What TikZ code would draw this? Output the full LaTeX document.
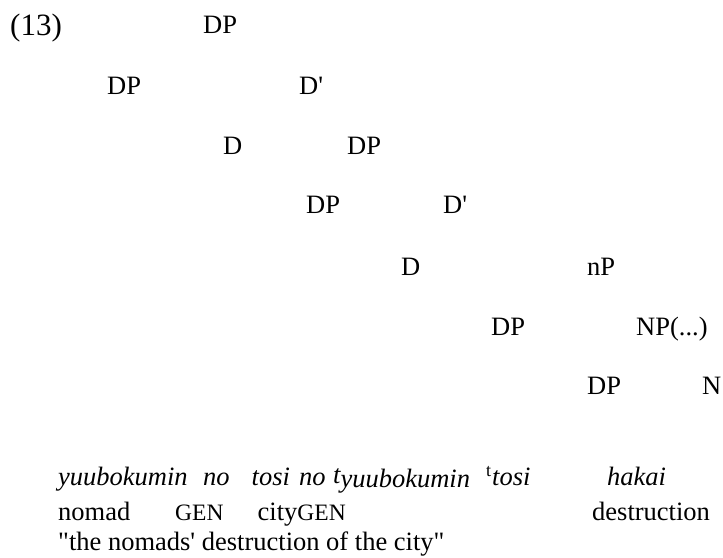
\documentclass[tikz,border=0pt]{standalone}
\usepackage{fontspec}
\setmainfont{LiberationSerif}[Extension=.ttf, UprightFont=*-Regular, ItalicFont=*-Italic, BoldFont=*-Bold, Ligatures=TeXOff]
\newcommand{\gentag}{{\fontsize{23.5}{28}\selectfont GEN}}
\begin{document}
\begin{tikzpicture}[x=1pt, y=-1pt,
	lbl/.style={anchor=base west, inner sep=0pt, font=\fontsize{26.5}{30}\selectfont}]
	\useasboundingbox (0, 0) rectangle (723, 557);
	
	% tree labels, no branches
	\node[lbl, font=\fontsize{31}{36}\selectfont] (ex) at (10, 35.5) {(13)};
	\node[lbl] (dp0) at (203, 33) {DP};
	
	\node[lbl] (dp1) at (107, 94) {DP};
	\node[lbl] (dbar1) at (299, 94) {D'};
	
	\node[lbl] (d2) at (223, 154.5) {D};
	\node[lbl] (dp2) at (347, 154.5) {DP};
	
	\node[lbl] (dp3) at (306, 213) {DP};
	\node[lbl] (dbar3) at (443, 213) {D'};
	
	\node[lbl] (d4) at (401, 275) {D};
	\node[lbl] (np4) at (587, 275) {nP};
	
	\node[lbl] (dp5) at (491, 335) {DP};
	\node[lbl] (np5) at (636, 335) {NP(...)};
	
	\node[lbl] (dp6) at (587, 394) {DP};
	\node[lbl] (n6) at (702, 394) {N};
	
	% example line
	\node[lbl] (w1) at (58, 485) {\textit{yuubokumin}};
	\node[lbl] (w2) at (203, 485) {\textit{no}};
	\node[lbl] (w3) at (251.5, 485) {\textit{tosi}};
	\node[lbl] (w4) at (299, 485) {\textit{no}};
	\node[lbl] (w5) at (333, 485) {\textit{\raisebox{0.06em}{t}\raisebox{-0.08em}{yuubokumin}}};
	\node[lbl] (w6) at (486, 485) {\raisebox{0.32em}{\fontsize{18}{20}\selectfont t}\kern1pt\textit{tosi}};
	\node[lbl] (w7) at (607, 485) {\textit{hakai}};
	
	% gloss line
	\node[lbl] (g1) at (58, 520) {nomad};
	\node[lbl] (g2) at (175, 520) {\gentag};
	\node[lbl] (g3) at (257.5, 520) {city\gentag};
	\node[lbl] (g4) at (592, 520) {destruction};
	
	% translation
	\node[lbl] (tr) at (58, 550) {"the nomads' destruction of the city"};
\end{tikzpicture}
\end{document}
